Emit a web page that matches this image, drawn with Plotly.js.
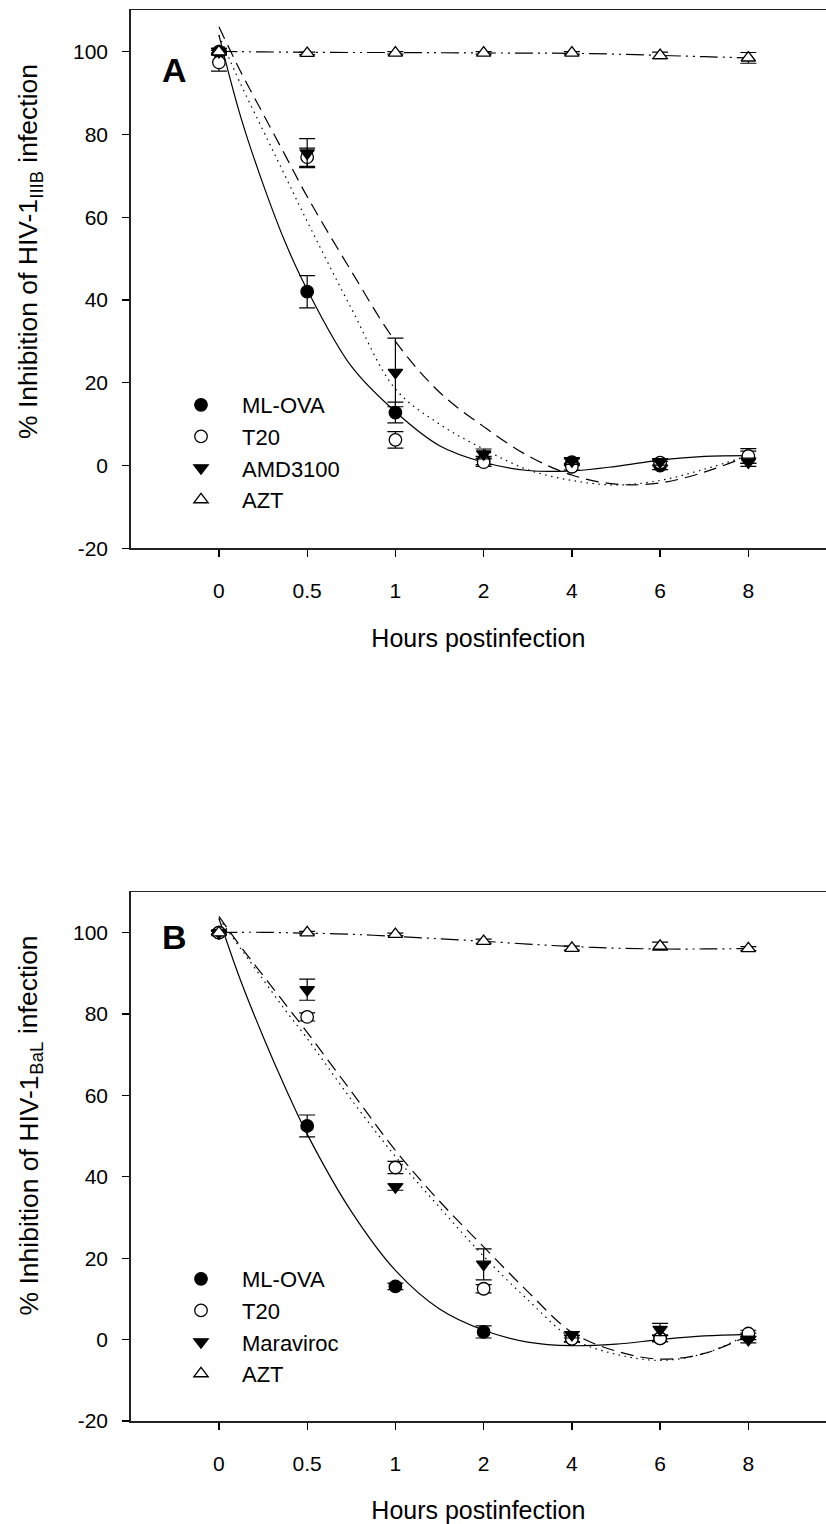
<!DOCTYPE html>
<html>
<head>
<meta charset="utf-8">
<script src="https://cdn.plot.ly/plotly-3.0.1.min.js"></script>
<style>html,body{margin:0;padding:0;background:#fff;}#chart{width:826px;height:1524px;}</style>
</head>
<body>
<div id="chart"></div>
<script>
// ---------- data ----------
const hourLabels = ['0', '0.5', '1', '2', '4', '6', '8'];
const hourPos = [0, 1, 2, 3, 4, 5, 6];          // evenly spaced categories
const fitPos = [0, 0.25, 0.5, 0.75, 1, 1.5, 2, 2.5, 3, 3.5, 4, 4.5, 5, 5.5, 6];

// Panel A : HIV-1 IIIB
const mlovaA = [100, 42, 12.8, 1.2, 0.8, 0.0, 2.0];
const mlovaAerr = [0.8, 3.9, 2.5, 1.0, 0.8, 1.0, 1.5];
const t20A = [97.4, 74.5, 6.2, 0.8, -0.3, 0.7, 2.3];
const t20Aerr = [2.1, 2.2, 2.0, 1.0, 0.8, 0.8, 1.8];
const amdA = [100, 75.5, 22.5, 2.8, 1.1, 0.9, 0.8];
const amdAerr = [0.8, 3.5, 8.3, 1.2, 0.8, 0.8, 1.0];
const aztA = [100, 99.6, 99.7, 99.7, 99.7, 99.1, 98.5];
const aztAerr = [0.3, 0.3, 0.3, 0.3, 0.3, 0.8, 1.3];

const mlovaAfit = [104, 84, 68, 54, 42.5, 24, 13, 4.8, 0.8, -1.2, -1.3, -0.2, 1.3, 2.2, 2.4];
const t20Afit = [104, 92, 81, 70, 59, 38, 18.5, 10, 4, -1, -3.6, -4.7, -3.6, -0.9, 2.4];
const amdAfit = [106, 95, 85, 75, 65, 47, 30, 17.7, 9.4, 2.4, -2.3, -4.5, -4.2, -1.6, 2.3];
const aztAfit = [100.1, 100.0, 99.95, 99.9, 99.85, 99.8, 99.8, 99.75, 99.7, 99.65, 99.6, 99.4, 99.1, 98.8, 98.5];

// Panel B : HIV-1 BaL
const mlovaB = [100, 52.5, 13.1, 1.9, 0.3, 0.3, 0.8];
const mlovaBerr = [0.5, 2.7, 0.8, 1.5, 0.8, 0.8, 0.8];
const t20B = [100, 79.3, 42.3, 12.5, 0.2, 0.3, 1.5];
const t20Berr = [0.5, 1.0, 1.5, 1.0, 0.8, 0.8, 0.8];
const marB = [100, 86.0, 37.5, 18.5, 1.2, 2.5, 0.0];
const marBerr = [0.5, 2.6, 0.8, 3.8, 0.8, 1.5, 0.8];
const aztB = [100, 100, 99.6, 97.9, 96.2, 96.7, 96.1];
const aztBerr = [0.3, 0.3, 0.3, 0.5, 0.5, 1.0, 0.5];

const mlovaBfit = [103.5, 88, 74.5, 62, 50.5, 31.5, 17, 7.5, 2.3, -0.6, -1.5, -1.1, 0, 0.9, 1.3];
const t20Bfit = [103.5, 96, 88.5, 81, 74, 59, 45, 32.5, 20.5, 9.8, 0.3, -3.6, -5.1, -3.4, 1.3];
const marBfit = [104, 96.5, 89.5, 82.5, 75.5, 61, 46.5, 34, 22.8, 11.8, 1.8, -2.8, -4.8, -3.4, 1.0];
const aztBfit = [100.1, 100.1, 100.1, 100, 99.9, 99.6, 99.1, 98.5, 97.9, 97.2, 96.6, 96.2, 96.0, 96.0, 96.1];

const yTicks = [-20, 0, 20, 40, 60, 80, 100];
const yTickLabels = ['-20', '0', '20', '40', '60', '80', '100'];

// y-axis title pieces (main text, subscript, trailing word)
const yTitleMain = '% Inhibition of HIV-1';
const yTitleSubA = 'IIIB';
const yTitleSubB = 'BaL';
const yTitleEnd = 'infection';

// ---------- styling ----------
const FONT = 'Liberation Sans, Arial, Helvetica, sans-serif';
const dashSolid = 'solid';
const dashDot = '1.5px,4.5px';
const dashDash = '13px,7px';
const dashAzt = '18px,5px,2px,5px,2px,5px';

function fit(x, y, dash, xa, ya) {
  return {x: x, y: y, xaxis: xa, yaxis: ya, mode: 'lines', type: 'scatter',
    line: {color: '#000', width: 1.2, dash: dash, shape: 'spline', smoothing: 1},
    showlegend: false, hoverinfo: 'skip'};
}
function pts(name, y, err, symbol, filled, xa, ya, leg) {
  return {x: hourPos, y: y, xaxis: xa, yaxis: ya, name: name, mode: 'markers', type: 'scatter',
    legend: leg,
    marker: {symbol: symbol, size: 12.5, color: filled ? '#000' : '#fff',
      line: {color: '#000', width: 1.3}},
    error_y: {type: 'data', array: err, visible: true, color: '#000', thickness: 1.2, width: 8}};
}

const traces = [
  fit(fitPos, aztAfit, dashAzt, 'x', 'y'),
  fit(fitPos, amdAfit, dashDash, 'x', 'y'),
  fit(fitPos, t20Afit, dashDot, 'x', 'y'),
  fit(fitPos, mlovaAfit, dashSolid, 'x', 'y'),
  pts('ML-OVA', mlovaA, mlovaAerr, 'circle', true, 'x', 'y', 'legend'),
  pts('T20', t20A, t20Aerr, 'circle', false, 'x', 'y', 'legend'),
  pts('AMD3100', amdA, amdAerr, 'triangle-down', true, 'x', 'y', 'legend'),
  pts('AZT', aztA, aztAerr, 'triangle-up', false, 'x', 'y', 'legend'),

  fit(fitPos, aztBfit, dashAzt, 'x2', 'y2'),
  fit(fitPos, marBfit, dashDash, 'x2', 'y2'),
  fit(fitPos, t20Bfit, dashDot, 'x2', 'y2'),
  fit(fitPos, mlovaBfit, dashSolid, 'x2', 'y2'),
  pts('ML-OVA', mlovaB, mlovaBerr, 'circle', true, 'x2', 'y2', 'legend2'),
  pts('T20', t20B, t20Berr, 'circle', false, 'x2', 'y2', 'legend2'),
  pts('Maraviroc', marB, marBerr, 'triangle-down', true, 'x2', 'y2', 'legend2'),
  pts('AZT', aztB, aztBerr, 'triangle-up', false, 'x2', 'y2', 'legend2')
];

const W = 826, H = 1524;
function xAxis(anchor) {
  return {domain: [130.7 / W, 1], range: [-1, 6.88], anchor: anchor,
    tickmode: 'array', tickvals: hourPos, ticktext: hourLabels,
    ticks: 'outside', ticklen: 7, tickwidth: 1.3, tickcolor: '#000',
    showline: true, linecolor: '#222', linewidth: 1.5, mirror: true,
    showgrid: false, zeroline: false, ticklabelstandoff: 16,
    tickfont: {family: FONT, size: 21, color: '#000'},
    title: {text: 'Hours postinfection', standoff: 28,
      font: {family: FONT, size: 25, color: '#000'}}};
}
function yAxis(anchor, top, bottom) {
  return {domain: [(H - bottom) / H, (H - top) / H], range: [-20, 110], anchor: anchor,
    tickmode: 'array', tickvals: yTicks, ticktext: yTickLabels,
    ticks: 'outside', ticklen: 7, tickwidth: 1.3, tickcolor: '#000',
    showline: true, linecolor: '#222', linewidth: 1.5, mirror: false,
    showgrid: false, zeroline: false, ticklabelstandoff: 10,
    tickfont: {family: FONT, size: 21, color: '#000'}};
}
function legendAt(topPx) {
  return {x: 160 / W, y: (H - topPx) / H, xanchor: 'left', yanchor: 'top',
    bgcolor: 'rgba(0,0,0,0)', borderwidth: 0, tracegroupgap: 0, itemwidth: 72,
    font: {family: FONT, size: 22, color: '#000'}};
}
// rotated text piece centred at pixel (xPx, yPx)
function vtext(txt, xPx, yPx, size) {
  return {text: txt, xref: 'paper', yref: 'paper', x: xPx / W, y: (H - yPx) / H,
    textangle: -90, showarrow: false, xanchor: 'center', yanchor: 'middle',
    font: {family: FONT, size: size, color: '#000'}};
}

const layout = {
  width: W, height: H,
  margin: {l: 0, r: 0, t: 0, b: 0, pad: 0},
  paper_bgcolor: '#fff', plot_bgcolor: '#fff',
  font: {family: FONT, color: '#000'},
  showlegend: true,
  xaxis: xAxis('y'),
  yaxis: yAxis('x', 10.3, 548.3),
  xaxis2: xAxis('y2'),
  yaxis2: yAxis('x2', 892, 1421),
  legend: legendAt(384),
  legend2: legendAt(1258),
  annotations: [
    {text: 'A', xref: 'x', yref: 'y', x: -0.5, y: 95.5, showarrow: false,
      xanchor: 'center', yanchor: 'middle',
      font: {family: FONT, size: 34, color: '#000', weight: 'bold'}},
    {text: 'B', xref: 'x2', yref: 'y2', x: -0.5, y: 99, showarrow: false,
      xanchor: 'center', yanchor: 'middle',
      font: {family: FONT, size: 34, color: '#000', weight: 'bold'}},
    // panel A y title
    vtext(yTitleMain, 28, 319, 26.5),
    vtext(yTitleSubA, 36.4, 184.3, 18.5),
    vtext(yTitleEnd, 28, 113.7, 26.5),
    // panel B y title
    vtext(yTitleMain, 28, 1195.5, 26.5),
    vtext(yTitleSubB, 36.4, 1058.3, 18.5),
    vtext(yTitleEnd, 28, 985.1, 26.5)
  ]
};

Plotly.newPlot('chart', traces, layout, {displayModeBar: false, staticPlot: true});
</script>
</body>
</html>
